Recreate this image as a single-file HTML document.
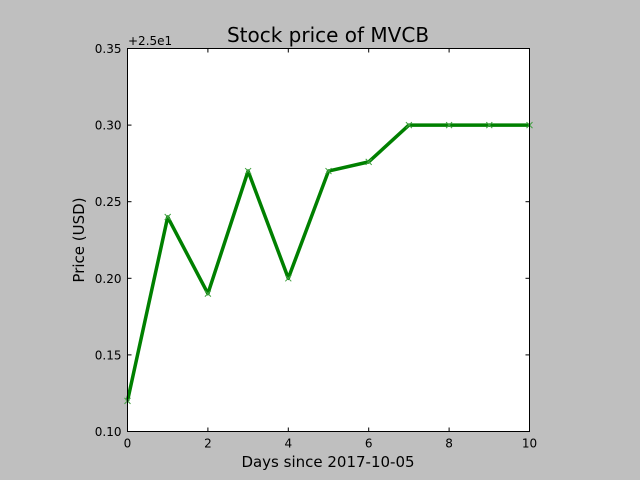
<!DOCTYPE html>
<html><head><meta charset="utf-8"><style>
body{margin:0;background:#bfbfbf;}
svg{display:block;font-family:"DejaVu Sans","Liberation Sans",sans-serif;}
</style></head><body>
<svg id="chart" width="640" height="480">
<rect width="640" height="480" fill="#bfbfbf"/>
<rect x="127.5" y="48.5" width="402" height="383" fill="#fff"/>
<g id="ticks"></g>
<polyline id="line" fill="none" stroke="#008000" stroke-width="3.5" stroke-linejoin="round"/>
<g id="marks"></g>
<rect x="127.5" y="48.5" width="402" height="383" fill="none" stroke="#000" stroke-width="1"/>
<text x="328" y="42" font-size="20" text-anchor="middle">Stock price of MVCB</text>
<text x="128" y="45" font-size="12">+2.5e1</text>
<text x="328" y="467" font-size="15" text-anchor="middle">Days since 2017-10-05</text>
<text transform="translate(84,240) rotate(-90)" font-size="15" text-anchor="middle">Price (USD)</text>
</svg>
<script>
const days=[0,1,2,3,4,5,6,7,8,9,10];
const prices=[0.12,0.24,0.19,0.27,0.20,0.27,0.276,0.30,0.30,0.30,0.30];
const xTicks=[0,2,4,6,8,10];
const yTicks=[0.10,0.15,0.20,0.25,0.30,0.35];
const L=127.5,R=529.5,T=48.5,B=431.5;
const xs=v=>L+(v-0)/(10-0)*(R-L);
const ys=v=>B-(v-0.10)/(0.35-0.10)*(B-T);
const NS="http://www.w3.org/2000/svg";
const tg=document.getElementById('ticks');
function mk(tag,attrs,parent){const e=document.createElementNS(NS,tag);for(const k in attrs)e.setAttribute(k,attrs[k]);parent.appendChild(e);return e;}
xTicks.forEach(v=>{const x=xs(v);
 let l=mk('line',{x1:x,x2:x,y1:B,y2:B-4,stroke:'#000'},tg);
 
 
 let l2=mk('line',{x1:x,x2:x,y1:T,y2:T+4,stroke:'#000'},tg);
 
 
 let t=mk('text',{x:x,y:B+16,'font-size':12,'text-anchor':'middle'},tg);t.textContent=v;
 
 
});
yTicks.forEach(v=>{const y=ys(v);
 let l=mk('line',{x1:L,x2:L+4,y1:y,y2:y,stroke:'#000'},tg);
 
 
 let l2=mk('line',{x1:R,x2:R-4,y1:y,y2:y,stroke:'#000'},tg);
 
 
 let t=mk('text',{x:L-6,y:y+4.5,'font-size':12,'text-anchor':'end'},tg);t.textContent=v.toFixed(2);
 
 
});
document.getElementById('line').setAttribute('points',days.map((d,i)=>xs(d)+','+ys(prices[i])).join(' '));
const mg=document.getElementById('marks');
days.forEach((d,i)=>{const x=xs(d),y=ys(prices[i]);
 let p=mk('path',{d:`M${x-3},${y-3}L${x+3},${y+3}M${x-3},${y+3}L${x+3},${y-3}`,stroke:'#40a040','stroke-width':1},mg);
 
 
});
</script>
</body></html>
